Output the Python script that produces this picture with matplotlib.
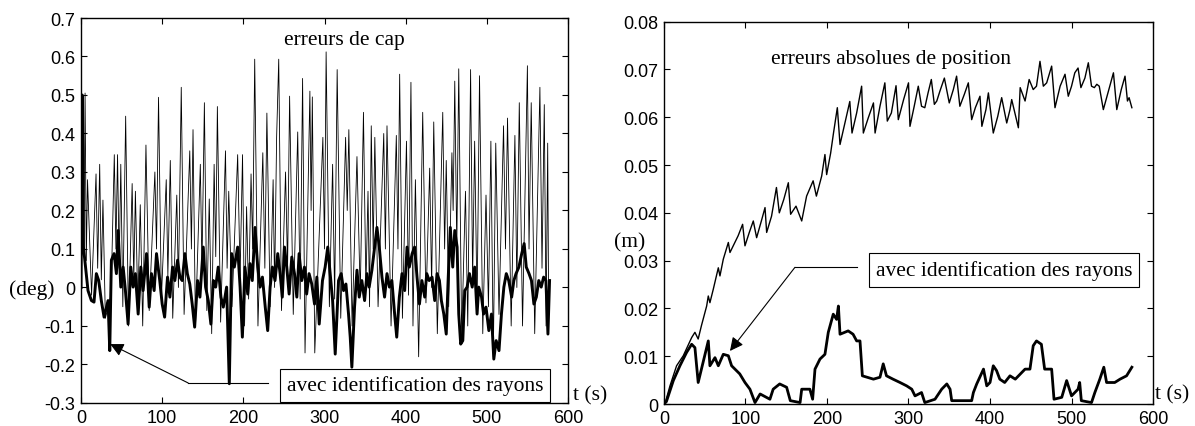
import numpy as np
import matplotlib
matplotlib.use("Agg")
import matplotlib.pyplot as plt

# ---- erreurs de cap (deg) : sans identification (trait fin)
t_cap_fin = [0, 2.5, 3.5, 5, 6.5, 8, 13, 18.5, 20.5, 23, 25, 27, 30, 37, 41, 43, 45, 47, 49,
             51.5, 55, 58.5, 63, 65, 67, 70, 73, 76, 80, 84, 91, 93, 95.5, 99, 105, 107, 110,
             113, 118, 120, 123.5, 127, 134, 136, 138, 141, 147, 149, 152, 155, 158, 161, 164,
             166, 168, 172, 178, 180, 182, 186, 193, 196, 199, 201.5, 204, 206.5, 209.5, 211.5,
             214, 218, 224, 226.5, 229, 233, 236.7, 238.5, 241, 243.6, 247, 252, 254.5, 257,
             261.5, 267, 270, 273, 276, 282, 283.5, 285, 288, 298, 300, 302, 306, 310, 312.5,
             315.6, 320, 326, 328, 330, 334, 340, 344, 348, 351, 353.6, 355.5, 357.6, 360, 362,
             366, 373, 375, 377, 382, 388.5, 390.5, 392.6, 396, 401, 403.5, 406.5, 409, 412,
             416, 421, 425, 429.6, 432, 434.6, 439, 445.7, 448, 450, 453, 457, 458.5, 460.5,
             463, 465.4, 469, 473.7, 476.5, 480, 482.5, 485, 488, 491, 495, 499, 502, 505, 508,
             511, 515, 520.6, 523, 525.5, 530, 534.6, 537, 540, 544, 550, 552, 554.7, 559,
             565.4, 568, 570.8, 573, 575, 576]
cap_fin = [0.0, 0.40, 0.08, 0.505, 0.07, 0.28, -0.02, 0.295, 0.05, 0.32, 0.02, 0.227, -0.08,
           -0.02, 0.345, 0.1, 0.345, 0.05, 0.32, -0.05, 0.445, -0.1, 0.27, 0.02, 0.25, -0.05,
           0.215, -0.1, 0.37, -0.06, 0.30, 0.1, 0.494, -0.03, 0.28, 0.03, 0.33, -0.08, 0.24, 0.0,
           0.52, -0.07, 0.355, 0.1, 0.41, -0.1, 0.32, 0.05, 0.48, -0.06, 0.23, -0.12, 0.32, 0.08,
           0.47, -0.09, 0.355, 0.05, 0.25, -0.05, 0.345, 0.03, 0.345, -0.1, 0.21, -0.03, 0.295,
           0.1, 0.593, -0.1, 0.35, 0.05, 0.453, -0.05, 0.28, 0.0, 0.39, 0.593, -0.06, 0.30, 0.05,
           0.497, -0.07, 0.404, -0.03, 0.543, -0.17, 0.51, 0.2, 0.495, -0.17, 0.39, 0.1, 0.612,
           -0.05, 0.32, -0.03, 0.566, -0.08, 0.39, 0.2, 0.41, -0.1, 0.34, -0.02, 0.455, 0.0, 0.25,
           -0.05, 0.42, 0.1, 0.39, -0.05, 0.40, 0.1, 0.42, -0.1, 0.395, 0.1, 0.554, -0.08, 0.38,
           -0.02, 0.533, -0.1, 0.28, -0.18, 0.455, -0.04, 0.31, 0.0, 0.43, -0.12, 0.455, 0.1,
           0.33, -0.05, 0.35, 0.2, 0.536, 0.1, 0.568, -0.13, 0.25, -0.1, 0.566, 0.02, 0.38,
           -0.05, 0.55, -0.12, 0.24, -0.05, 0.38, -0.18, 0.375, -0.07, 0.42, 0.1, 0.44, -0.1,
           0.395, 0.0, 0.48, -0.1, 0.576, 0.1, 0.48, -0.12, 0.52, 0.05, 0.475, -0.1, 0.375, 0.0]

# ---- erreurs de cap (deg) : avec identification des rayons (trait épais)
t_cap_id = [0, 1.5, 3, 8.6, 12.8, 16, 18.9, 21.8, 25, 28.4, 31.3, 33.3, 35.4, 37.4, 40.7, 43.6,
            45.7, 49, 51.9, 54.7, 58, 61.3, 64.2, 67, 70.4, 73.7, 76.5, 80.7, 84, 86.8, 90.1, 93,
            97, 100, 103, 106.6, 109.5, 112.8, 115.6, 119, 121.8, 124.7, 128, 131, 134, 137, 140,
            143.6, 146.5, 150.6, 153.5, 156.8, 160, 163, 165.9, 169, 172.4, 175.3, 179.4, 182.7,
            185.6, 188.9, 193, 196, 198.8, 202, 205.4, 208.2, 211, 214.4, 217.7, 220.6, 223.5,
            227, 230, 233, 235.8, 239, 242.4, 245.3, 248, 250.7, 253.5, 256.4, 259.7, 263, 265.9,
            268.7, 272, 275.3, 278, 281, 284.3, 287.7, 290.6, 293.5, 297.5, 300.8, 304, 307, 310,
            313.2, 317.3, 320.6, 323.5, 326.4, 329.6, 331.7, 333.7, 337, 340, 342.8, 346, 349.4,
            352.3, 355, 358.4, 361.7, 364.6, 367.5, 370.8, 374, 377, 380, 383, 386.4, 389, 392.2,
            395.5, 398.8, 401.7, 404.5, 408, 411, 414, 417, 420, 423.5, 426, 429, 432.5, 435.8,
            438.7, 441.6, 444, 447, 450, 452.3, 455, 458, 460.5, 463.4, 465.4, 467.8, 470.4,
            472.8, 475.7, 478.6, 482, 485, 488, 490, 493.5, 496, 499, 502.5, 505.7, 508.6, 511.5,
            515, 518, 521, 524, 527, 530.6, 533.3, 536, 539.5, 543, 546, 548.6, 552, 555, 558,
            561, 564, 567, 570, 572.8, 575.3, 577.3]
cap_id = [0.0, 0.50, 0.105, -0.008, -0.034, -0.038, 0.036, 0.018, -0.034, -0.077, -0.051, -0.034,
          -0.164, 0.071, 0.088, 0.036, 0.148, 0.001, 0.053, -0.008, -0.095, 0.053, 0.001, 0.036,
          -0.069, 0.053, -0.008, 0.088, -0.051, 0.036, -0.008, 0.088, 0.018, -0.043, -0.077,
          0.027, -0.025, 0.053, 0.018, 0.071, 0.027, 0.018, 0.088, 0.036, 0.009, -0.043, -0.103,
          0.018, -0.025, 0.105, 0.001, -0.034, -0.095, 0.018, 0.001, 0.053, -0.025, -0.051,
          0.001, -0.25, 0.088, 0.053, 0.105, 0.001, -0.129, 0.053, -0.017, 0.062, 0.018, 0.156,
          0.053, 0.001, 0.027, -0.051, -0.112, 0.001, 0.053, 0.018, 0.088, 0.036, -0.025, 0.105,
          0.053, -0.017, 0.079, 0.036, -0.025, 0.088, 0.018, 0.053, -0.017, 0.036, 0.009, -0.043,
          0.027, -0.095, 0.018, 0.053, 0.105, 0.036, -0.034, -0.173, 0.018, 0.036, -0.008, 0.009,
          -0.069, -0.129, -0.207, -0.051, 0.045, -0.025, 0.018, -0.034, 0.036, 0.001, 0.045,
          0.105, 0.156, 0.105, 0.027, -0.025, 0.036, 0.001, 0.018, -0.069, -0.129, -0.025, 0.036,
          -0.008, 0.105, 0.053, 0.088, 0.105, 0.027, -0.043, 0.018, -0.025, 0.036, 0.018, 0.027,
          -0.034, 0.036, 0.018, -0.034, -0.069, -0.121, 0.018, 0.156, 0.053, 0.148, 0.105,
          -0.069, -0.147, -0.138, -0.008, 0.001, 0.036, 0.001, 0.053, -0.069, 0.001, -0.025,
          -0.069, -0.051, -0.112, -0.069, -0.186, -0.138, -0.164, -0.069, 0.001, 0.036, 0.018,
          -0.025, 0.018, 0.036, 0.053, 0.088, 0.114, 0.053, 0.036, 0.018, -0.043, -0.025, 0.018,
          0.001, 0.027, 0.018, -0.121, 0.018]

# ---- erreurs absolues de position (m) : sans identification
t_pos_fin = [0, 1.2, 7.4, 15.5, 23.7, 34, 38, 42, 46, 52.4, 54.4, 56.4, 60.5, 66.7, 68.7, 72.8,
             79, 81, 85, 91, 96.5, 99.4, 104.7, 109.6, 113.7, 120, 124, 126, 132, 138, 141.5,
             147, 152.6, 155.4, 162, 169, 175, 183, 187, 193.5, 197.5, 199.6, 204.5, 208, 212.7,
             216, 222, 228, 230.7, 236.4, 242.5, 244.6, 250.7, 257, 259, 265, 271, 274, 279,
             284.7, 287.5, 294, 300, 301.8, 307, 312, 316, 320, 324, 328, 331.7, 334.7, 338.6,
             344, 350, 355, 359, 363, 368.5, 373.4, 377.5, 382, 387.7, 390, 395, 398, 404, 409.5,
             414.3, 420.5, 424.5, 426.6, 434.8, 437, 443, 448, 453, 457, 461.3, 465.4, 469.5,
             475.6, 479.7, 486, 492, 496, 500, 504, 508, 511.5, 516.4, 520.6, 524.5, 528, 531,
             534, 539, 545.3, 551.4, 555.5, 561, 565.6, 568.6, 570.6, 574]
pos_fin = [0.0, 0.0, 0.0038, 0.0080, 0.0101, 0.0139, 0.0150, 0.0136, 0.0164, 0.0205, 0.0226,
           0.0212, 0.0240, 0.0285, 0.0268, 0.0303, 0.0338, 0.0317, 0.0331, 0.0352, 0.0376,
           0.0331, 0.0359, 0.0383, 0.0348, 0.0386, 0.0411, 0.0359, 0.0393, 0.0453, 0.0400,
           0.0428, 0.0463, 0.0397, 0.0414, 0.0383, 0.0435, 0.0467, 0.0435, 0.0477, 0.0522,
           0.0480, 0.0525, 0.0567, 0.0620, 0.0543, 0.0588, 0.0633, 0.0567, 0.0609, 0.0665,
           0.0567, 0.0599, 0.0630, 0.0567, 0.0623, 0.0672, 0.0592, 0.0609, 0.0666, 0.0595,
           0.0637, 0.0672, 0.0581, 0.0623, 0.0665, 0.0623, 0.0620, 0.0651, 0.0679, 0.0627,
           0.0634, 0.0655, 0.0682, 0.0630, 0.0658, 0.0686, 0.0623, 0.0648, 0.0672, 0.0595,
           0.0620, 0.0644, 0.0581, 0.0616, 0.0651, 0.0567, 0.0602, 0.0641, 0.0588, 0.0616,
           0.0637, 0.0578, 0.0662, 0.0634, 0.0679, 0.0658, 0.0665, 0.0717, 0.0665, 0.0672,
           0.0707, 0.0620, 0.0665, 0.0690, 0.0644, 0.0665, 0.0693, 0.0703, 0.0662, 0.0682,
           0.0714, 0.0665, 0.0662, 0.0669, 0.0665, 0.0616, 0.0655, 0.0693, 0.0616, 0.0658,
           0.0686, 0.0634, 0.0641, 0.0620]

# ---- erreurs absolues de position (m) : avec identification des rayons
t_pos_id = [0, 3, 11.5, 19.6, 27.8, 34, 38, 42, 46, 54.4, 56.4, 62.6, 66.7, 72.8, 79, 83, 93,
            99.4, 105.5, 111.7, 118, 130, 134, 142, 150.5, 155, 167, 169, 179, 182.4, 185.3,
            191.4, 197.5, 201.6, 207.7, 211.8, 214, 216, 226, 232, 236.4, 240.5, 243.4, 257,
            265, 269, 273, 281, 289.6, 297.7, 304, 308, 316, 320, 332.5, 340.7, 347, 351, 353,
            377.5, 379.6, 383.7, 392, 396, 400, 404, 408, 412, 418, 424.5, 431, 443, 449, 453,
            457, 463, 467, 475.6, 478.5, 488, 494, 500, 508, 510, 512, 524.5, 528.6, 534.7,
            539.6, 543, 553, 559.5, 567.5, 574]
pos_id = [0.0, 0.0005, 0.0049, 0.0080, 0.0108, 0.0125, 0.0118, 0.0045, 0.0073, 0.0132, 0.0080,
          0.0097, 0.0080, 0.0104, 0.0101, 0.0080, 0.0063, 0.0045, 0.0031, 0.0003, 0.0021,
          0.0010, 0.0031, 0.0042, 0.0035, 0.0007, 0.0003, 0.0031, 0.0031, 0.0010, 0.0073,
          0.0094, 0.0104, 0.0150, 0.0188, 0.0177, 0.0205, 0.0146, 0.0153, 0.0146, 0.0132,
          0.0132, 0.0059, 0.0052, 0.0056, 0.0084, 0.0059, 0.0052, 0.0045, 0.0038, 0.0031,
          0.0017, 0.0024, 0.0003, 0.0010, 0.0031, 0.0042, 0.0031, 0.0007, 0.0007, 0.0024,
          0.0042, 0.0073, 0.0038, 0.0045, 0.0080, 0.0070, 0.0052, 0.0045, 0.0059, 0.0052,
          0.0073, 0.0073, 0.0122, 0.0132, 0.0125, 0.0073, 0.0073, 0.0010, 0.0014, 0.0049,
          0.0017, 0.0031, 0.0045, 0.0007, 0.0003, 0.0024, 0.0052, 0.0077, 0.0045, 0.0045,
          0.0052, 0.0059, 0.0077]

x_ticks = [0, 100, 200, 300, 400, 500, 600]
x_labels = ['0', '100', '200', '300', '400', '500', '600']
cap_ticks = [-0.3, -0.2, -0.1, 0, 0.1, 0.2, 0.3, 0.4, 0.5, 0.6, 0.7]
cap_labels = ['-0.3', '-0.2', '-0.1', '0', '0.1', '0.2', '0.3', '0.4', '0.5', '0.6', '0.7']
pos_ticks = [0, 0.01, 0.02, 0.03, 0.04, 0.05, 0.06, 0.07, 0.08]
pos_labels = ['0', '0.01', '0.02', '0.03', '0.04', '0.05', '0.06', '0.07', '0.08']

serif = 'Liberation Serif'
fs = 15.5
plt.rcParams['font.family'] = 'Liberation Sans'

fig = plt.figure(figsize=(11.95, 4.27), dpi=100)
ax1 = fig.add_axes([0.0678, 0.0539, 0.4075, 0.9016])
ax2 = fig.add_axes([0.5556, 0.0515, 0.4093, 0.8954])


def habiller(ax, yticks, ylabels, ylim):
    ax.set_xlim(0, 600)
    ax.set_ylim(*ylim)
    ax.set_xticks(x_ticks)
    ax.set_xticklabels(x_labels)
    ax.set_yticks(yticks)
    ax.set_yticklabels(ylabels)
    ax.tick_params(direction='in', length=4, width=0.8, top=True, right=True,
                   labelsize=13, pad=4)
    for sp in ax.spines.values():
        sp.set_linewidth(1.0)


# panneau gauche : cap
ax1.plot(t_cap_fin, cap_fin, color='black', lw=0.6)
ax1.plot(t_cap_id, cap_id, color='black', lw=2.1)
habiller(ax1, cap_ticks, cap_labels, (-0.3, 0.7))
ax1.text(325, 0.643, 'erreurs de cap', family=serif, fontsize=fs, ha='center', va='center')
ax1.text(411.5, -0.2545, 'avec identification des rayons', family=serif, fontsize=fs,
         ha='center', va='center', zorder=5,
         bbox=dict(boxstyle='square,pad=0.32', fc='white', ec='black', lw=0.8))
ax1.plot([132, 230], [-0.248, -0.248], color='black', lw=0.8, zorder=4)
ax1.annotate('', xy=(36, -0.147), xytext=(132, -0.248), zorder=4,
             arrowprops=dict(arrowstyle='-|>', color='black', lw=0.8, mutation_scale=20,
                             shrinkA=0, shrinkB=0))

# panneau droit : position
ax2.plot(t_pos_fin, pos_fin, color='black', lw=1.0)
ax2.plot(t_pos_id, pos_id, color='black', lw=2.0)
habiller(ax2, pos_ticks, pos_labels, (0, 0.08))
ax2.text(279, 0.0722, 'erreurs absolues de position', family=serif, fontsize=fs,
         ha='center', va='center')
ax2.text(417, 0.0281, 'avec identification des rayons', family=serif, fontsize=fs,
         ha='center', va='center', zorder=5,
         bbox=dict(boxstyle='square,pad=0.32', fc='white', ec='black', lw=0.8))
ax2.plot([160.7, 237], [0.0286, 0.0286], color='black', lw=0.8, zorder=4)
ax2.annotate('', xy=(81, 0.0111), xytext=(160.7, 0.0286), zorder=4,
             arrowprops=dict(arrowstyle='-|>', color='black', lw=0.8, mutation_scale=20,
                             shrinkA=0, shrinkB=0))

# étiquettes d'axes
fig.text(32 / 1195, 1 - 290 / 427, '(deg)', family=serif, fontsize=fs, ha='center', va='center')
fig.text(630 / 1195, 1 - 243 / 427, '(m)', family=serif, fontsize=fs, ha='center', va='center')
fig.text(573 / 1195, 1 - 396 / 427, 't (s)', family=serif, fontsize=fs, ha='left', va='center')
fig.text(1155 / 1195, 1 - 395 / 427, 't (s)', family=serif, fontsize=fs, ha='left', va='center')

fig.savefig('out.png', dpi=100)
